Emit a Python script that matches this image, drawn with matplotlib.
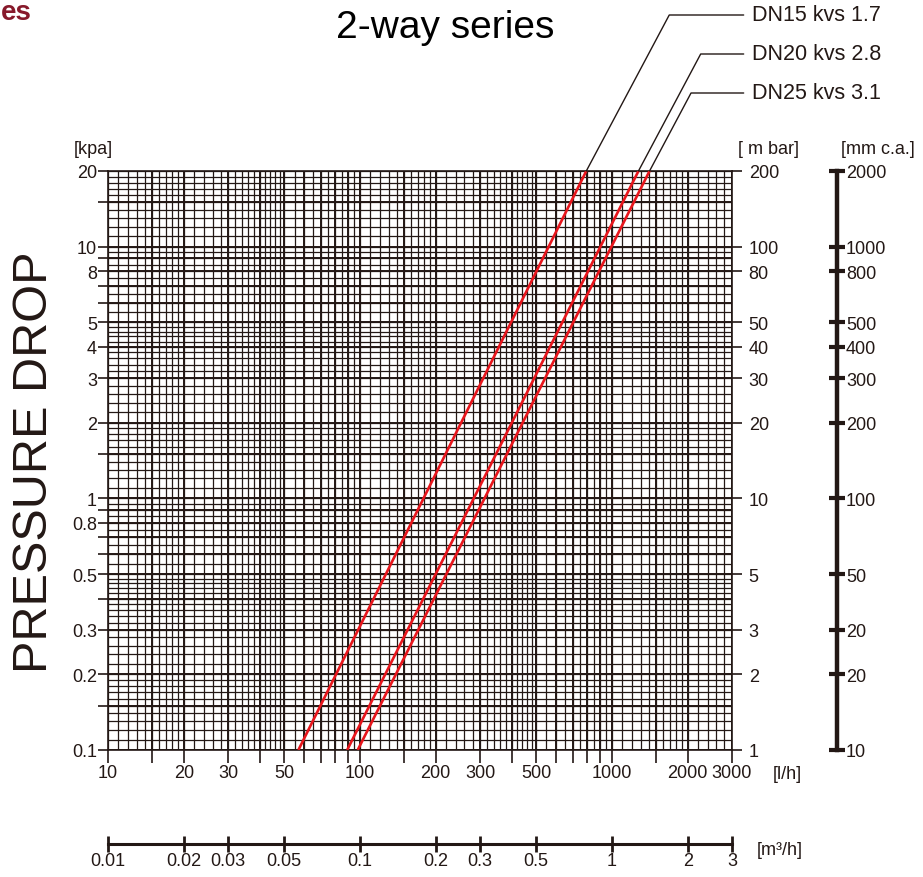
import numpy as np
import matplotlib.pyplot as plt

plt.rcParams['font.family'] = ['Liberation Sans', 'DejaVu Sans']

# flow axis [l/h]
flow_ticks = [10, 15, 20, 30, 40, 50, 60, 70, 80, 90, 100, 150, 200, 300, 400,
              500, 600, 700, 800, 900, 1000, 1500, 2000, 3000]
flow_label_vals = [10, 20, 30, 50, 100, 200, 300, 500, 1000, 2000, 3000]
flow_labels = ['10', '20', '30', '50', '100', '200', '300', '500', '1000', '2000', '3000']

# pressure drop axis [kpa]
kpa_ticks = [0.1, 0.15, 0.2, 0.3, 0.4, 0.5, 0.6, 0.7, 0.8, 0.9, 1, 1.5, 2, 3, 4,
             5, 6, 7, 8, 9, 10, 15, 20]
kpa_label_vals = [0.1, 0.2, 0.3, 0.5, 0.8, 1, 2, 3, 4, 5, 8, 10, 20]
kpa_labels = ['0.1', '0.2', '0.3', '0.5', '0.8', '1', '2', '3', '4', '5', '8', '10', '20']

# secondary scales
side_vals = [20, 10, 8, 5, 4, 3, 2, 1, 0.5, 0.3, 0.2, 0.1]
mbar_labels = ['200', '100', '80', '50', '40', '30', '20', '10', '5', '3', '2', '1']
mmca_labels = ['2000', '1000', '800', '500', '400', '300', '200', '100', '50', '20', '20', '10']
m3h_vals = [0.01, 0.02, 0.03, 0.05, 0.1, 0.2, 0.3, 0.5, 1, 2, 3]
m3h_labels = ['0.01', '0.02', '0.03', '0.05', '0.1', '0.2', '0.3', '0.5', '1', '2', '3']

# valve curves
valves = ['DN15 kvs 1.7', 'DN20 kvs 2.8', 'DN25 kvs 3.1']
flow_start = [57, 89, 98]
flow_end = [792, 1276, 1412]
dp_start = [0.1, 0.1, 0.1]
dp_end = [20, 20, 20]

W, H = 923, 878
ink = '#231815'
red = '#e8161c'


def fpos(x, y):
    return x / W, 1 - y / H


fig = plt.figure(figsize=(W / 100, H / 100), dpi=100)
x0, x1, ytop, ybot = 108, 732, 172, 751
ax = fig.add_axes([x0 / W, 1 - ybot / H, (x1 - x0) / W, (ybot - ytop) / H])
ax.set_xscale('log')
ax.set_yscale('log')
ax.set_xlim(10, 3000)
ax.set_ylim(0.1, 20)

# log paper grid, heavier lines where the ticks are
steps = np.r_[np.arange(1, 2, 0.1), np.arange(2, 5, 0.2), np.arange(5, 10, 0.5)]
gx = [v for d in [10, 100, 1000] for v in steps * d if v <= 3000]
gy = [v for d in [0.1, 1, 10] for v in steps * d if v <= 20]
ax.vlines(gx, 0.1, 20, color=ink, lw=0.9, zorder=1)
ax.hlines(gy, 10, 3000, color=ink, lw=0.9, zorder=1)
ax.vlines(flow_ticks, 0.1, 20, color=ink, lw=1.4, zorder=1)
ax.hlines(kpa_ticks, 10, 3000, color=ink, lw=1.4, zorder=1)

for s in ax.spines.values():
    s.set_color(ink)
    s.set_linewidth(1.2)

ax.set_xticks(flow_ticks)
ax.set_xticklabels([flow_labels[flow_label_vals.index(v)] if v in flow_label_vals else ''
                    for v in flow_ticks])
ax.set_yticks(kpa_ticks)
ax.set_yticklabels([kpa_labels[kpa_label_vals.index(v)] if v in kpa_label_vals else ''
                    for v in kpa_ticks])
ax.minorticks_off()
ax.tick_params(axis='x', direction='out', length=9, width=1.2, color=ink,
               labelsize=13, pad=1, labelcolor=ink)
ax.tick_params(axis='y', direction='out', length=7, width=1.2, color=ink,
               labelsize=13, pad=1, labelcolor=ink)

ax2 = ax.twinx()
ax2.set_yscale('log')
ax2.set_ylim(0.1, 20)
ax2.set_yticks(side_vals)
ax2.set_yticklabels(mbar_labels)
ax2.minorticks_off()
ax2.tick_params(axis='y', direction='out', length=7, width=1.2, color=ink,
                labelsize=13, pad=5, labelcolor=ink)
for s in ax2.spines.values():
    s.set_visible(False)

for name, qa, qb, pa, pb in zip(valves, flow_start, flow_end, dp_start, dp_end):
    ax.plot([qa, qb], [pa, pb], color=red, lw=1.9, zorder=3, solid_capstyle='butt')

# leader lines and labels
label_y = [16, 55, 94]
for name, qb, pb, ly in zip(valves, flow_end, dp_end, label_y):
    ax.annotate(name, xy=(qb, pb), xycoords='data',
                xytext=(752, H - ly), textcoords='figure pixels',
                ha='left', va='center', fontsize=15.5, color=ink,
                annotation_clip=False,
                arrowprops=dict(arrowstyle='-', color=ink, lw=1.0,
                                shrinkA=4, shrinkB=0,
                                connectionstyle='angle,angleA=0,angleB=62,rad=0'))

# mm c.a. scale
ax3 = fig.add_axes([837 / W, 1 - ybot / H, 0.0001, (ybot - ytop) / H])
ax3.set_yscale('log')
ax3.set_ylim(0.1, 20)
ax3.set_xticks([])
ax3.yaxis.tick_right()
ax3.set_yticks(side_vals)
ax3.set_yticklabels(mmca_labels)
ax3.minorticks_off()
for k, s in ax3.spines.items():
    s.set_visible(k == 'right')
ax3.spines['right'].set_linewidth(3.2)
ax3.spines['right'].set_color(ink)
ax3.tick_params(axis='y', direction='inout', length=11, width=3, color=ink,
                labelsize=13, pad=1, labelcolor=ink)
ax3.patch.set_visible(False)

# m3/h scale
ax4 = fig.add_axes([x0 / W, 1 - 845 / H, (x1 - x0) / W, 0.0001])
ax4.set_xscale('log')
ax4.set_xlim(0.01, 3)
ax4.set_yticks([])
ax4.set_xticks(m3h_vals)
ax4.set_xticklabels(m3h_labels)
ax4.minorticks_off()
for k, s in ax4.spines.items():
    s.set_visible(k == 'bottom')
ax4.spines['bottom'].set_linewidth(2.2)
ax4.spines['bottom'].set_color(ink)
ax4.tick_params(axis='x', direction='inout', length=12, width=2, color=ink,
                labelsize=13, pad=0, labelcolor=ink)
ax4.patch.set_visible(False)

# texts
fig.text(*fpos(445, 28), '2-way series', fontsize=28, ha='center', va='center', color='black')
fig.text(*fpos(35, 462), 'PRESSURE DROP', fontsize=35, rotation=90,
         ha='center', va='center', color=ink)
fig.text(*fpos(1, 13), 'es', fontsize=20, fontweight='bold', color='#87192b',
         ha='left', va='center')
fig.text(*fpos(93, 150), '[kpa]', fontsize=13, ha='center', va='center', color=ink)
fig.text(*fpos(769, 150), '[ m bar]', fontsize=13, ha='center', va='center', color=ink)
fig.text(*fpos(878, 150), '[mm c.a.]', fontsize=13, ha='center', va='center', color=ink)
fig.text(*fpos(773, 775), '[l/h]', fontsize=13, ha='left', va='center', color=ink)
fig.text(*fpos(757, 851), '[m³/h]', fontsize=13, ha='left', va='center', color=ink)

fig.savefig('out.png', dpi=100, facecolor='white')
